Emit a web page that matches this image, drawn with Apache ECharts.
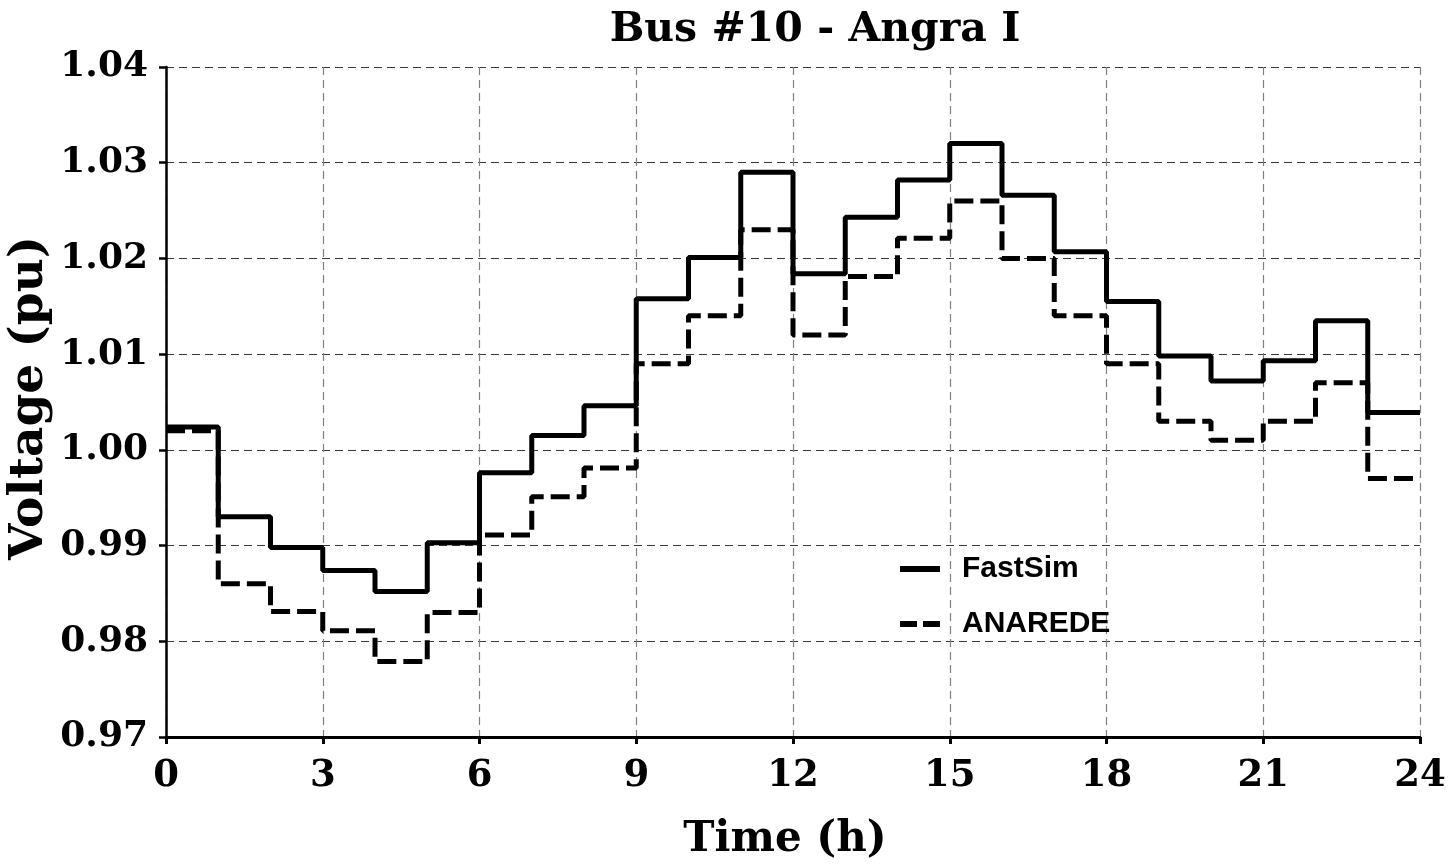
<!DOCTYPE html>
<html>
<head>
<meta charset="utf-8">
<script src="https://cdn.jsdelivr.net/npm/echarts@6/dist/echarts.min.js"></script>
<style>
html,body{margin:0;padding:0;background:#fff;}
#chart{width:1452px;height:865px;}
</style>
</head>
<body>
<div id="chart"></div>
<script>
// hourly step values (value held from hour h to h+1)
const hours = [0,1,2,3,4,5,6,7,8,9,10,11,12,13,14,15,16,17,18,19,20,21,22,23];
const fastSim = [1.0024,0.9930,0.9898,0.9874,0.9852,0.9903,0.9976,1.0015,1.0046,1.0158,1.0201,1.0290,1.0184,1.0243,1.0282,1.0320,1.0266,1.0207,1.0155,1.0098,1.0072,1.0093,1.0135,1.0039];
const anarede = [1.0020,0.9860,0.9831,0.9811,0.9779,0.9830,0.9911,0.9951,0.9981,1.0090,1.0140,1.0230,1.0120,1.0181,1.0221,1.0260,1.0200,1.0140,1.0090,1.0030,1.0010,1.0030,1.0070,0.9970];
const xTicks = [0,3,6,9,12,15,18,21,24];
const yTicks = [0.97,0.98,0.99,1.00,1.01,1.02,1.03,1.04];
const seriesNames = ['FastSim','ANAREDE'];
const titleText = 'Bus #10 - Angra I';
const xTitle = 'Time (h)';
const yTitle = 'Voltage (pu)';

function stepPoints(vals){
  const pts = hours.map((h,i)=>[h, vals[i]]);
  pts.push([hours[hours.length-1]+1, vals[vals.length-1]]);
  return pts;
}

const serif = 'DejaVu Serif';
const chart = echarts.init(document.getElementById('chart'), null, {renderer:'canvas'});
chart.setOption({
  animation:false,
  backgroundColor:'#fff',
  grid:{left:166, right:32, top:67, bottom:128, containLabel:false},
  xAxis:{
    type:'value', min:xTicks[0], max:xTicks[xTicks.length-1], interval:3,
    axisLine:{show:true, onZero:false, lineStyle:{color:'#000', width:3}},
    axisTick:{show:true, length:7, lineStyle:{color:'#000', width:3}},
    axisLabel:{margin:21, color:'#000', fontFamily:serif, fontWeight:'bold', fontSize:37},
    splitLine:{show:true, lineStyle:{color:'#808080', width:1.2, type:[8,5]}}
  },
  yAxis:{
    type:'value', min:yTicks[0], max:yTicks[yTicks.length-1], interval:0.01,
    axisLine:{show:true, onZero:false, lineStyle:{color:'#000', width:2.5}},
    axisTick:{show:true, length:7, lineStyle:{color:'#000', width:2.5}},
    axisLabel:{margin:18, color:'#000', fontFamily:serif, fontWeight:'bold', fontSize:36,
      formatter:v=>v.toFixed(2)},
    splitLine:{show:true, lineStyle:{color:'#3a3a3a', width:1.2, type:[8,5]}}
  },
  legend:{
    orient:'vertical', left:895, top:547,
    itemWidth:40, itemHeight:6, itemGap:21,
    itemStyle:{color:'#000', borderWidth:0},
    textStyle:{fontFamily:'Liberation Sans', fontWeight:'bold', fontSize:30, color:'#000', padding:[0,0,0,17], lineHeight:34},
    data:[
      {name:seriesNames[0], icon:'path://M0,0H40V6H0Z'},
      {name:seriesNames[1], icon:'path://M0,0H17V6H0ZM23,0H40V6H23Z'}
    ]
  },
  graphic:[
    {id:'t', type:'text', x:815, y:30, style:{text:titleText, font:'bold 41px "DejaVu Serif"', fill:'#000', align:'center', verticalAlign:'middle'}},
    {id:'xt', type:'text', x:785, y:840, style:{text:xTitle, font:'bold 42px "DejaVu Serif"', fill:'#000', align:'center', verticalAlign:'middle'}},
    {id:'yt', type:'text', x:30, y:398, rotation:Math.PI/2, style:{text:yTitle, font:'bold 47px "DejaVu Serif"', fill:'#000', align:'center', verticalAlign:'middle'}}
  ],
  series:[
    {name:seriesNames[0], type:'line', step:'end', symbol:'none', data:stepPoints(fastSim),
     lineStyle:{color:'#000', width:5, type:'solid'}, itemStyle:{color:'#000'}},
    {name:seriesNames[1], type:'line', step:'end', symbol:'none', data:stepPoints(anarede),
     lineStyle:{color:'#000', width:5, type:[19,7]}, itemStyle:{color:'#000'}}
  ]
});
</script>
</body>
</html>
